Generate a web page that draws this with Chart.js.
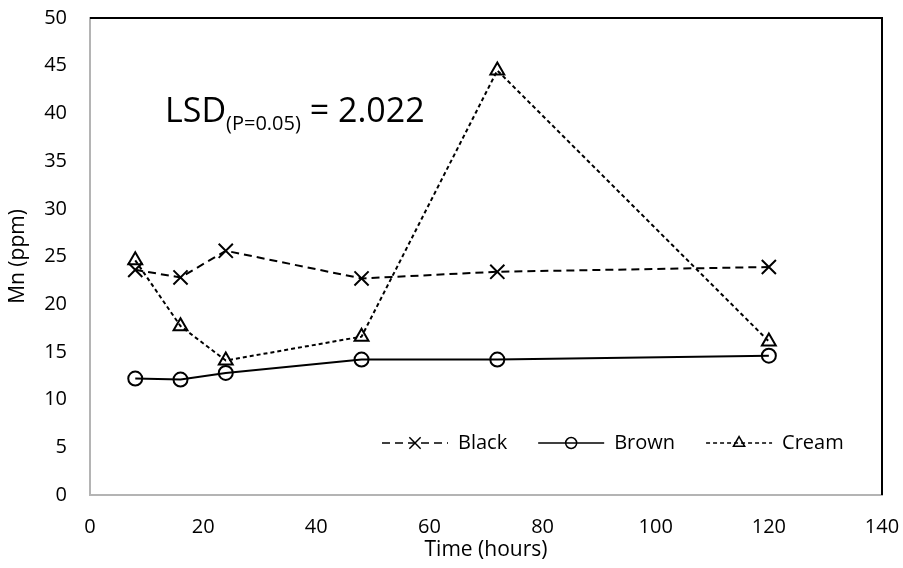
<!DOCTYPE html>
<html>
<head>
<meta charset="utf-8">
<script src="https://cdn.jsdelivr.net/npm/chart.js@4/dist/chart.umd.min.js"></script>
<style>
  html, body { margin: 0; padding: 0; background: #fff; }
  #wrap { width: 903px; height: 568px; position: relative; }
</style>
</head>
<body>
<div id="wrap"><canvas id="chart"></canvas></div>
<script>
// Mn content (ppm) over time for the three seed coat colours
const hours = [8, 16, 24, 48, 72, 120];
const black = [23.6, 22.8, 25.6, 22.7, 23.4, 23.9];
const brown = [12.2, 12.1, 12.8, 14.2, 14.2, 14.6];
const cream = [24.6, 17.7, 14.1, 16.6, 44.5, 16.1];

const xTitle = "Time (hours)";
const yTitle = "Mn (ppm)";
const lsdText = { main: "LSD", sub: "(P=0.05)", rest: " = 2.022" };

const FONT = "'Open Sans', sans-serif";
Chart.defaults.font.family = FONT;
Chart.defaults.color = "#000";

const toPoints = (ys) => hours.map((h, i) => ({ x: h, y: ys[i] }));

const series = (label, ys, dash, style, radius) => ({
  label,
  data: toPoints(ys),
  borderColor: "#000",
  borderWidth: 2,
  borderDash: dash,
  pointStyle: style,
  pointRadius: radius,
  pointBorderWidth: 2,
  pointBorderColor: "#000",
  pointBackgroundColor: "rgba(255,255,255,0)",
  tension: 0,
  fill: false,
});

// plot frame (black top/right) plus the LSD note
const extras = {
  id: "extras",
  afterDraw(chart) {
    const { ctx, chartArea: a } = chart;
    ctx.save();
    ctx.strokeStyle = "#000";
    ctx.lineWidth = 2;
    ctx.beginPath();
    ctx.moveTo(a.left, a.top);
    ctx.lineTo(a.right, a.top);
    ctx.lineTo(a.right, a.bottom);
    ctx.stroke();

    ctx.fillStyle = "#000";
    ctx.textBaseline = "alphabetic";
    let x = 165;
    const base = 122;
    ctx.font = "34px " + FONT;
    ctx.fillText(lsdText.main, x, base);
    x += ctx.measureText(lsdText.main).width;
    ctx.font = "20px " + FONT;
    ctx.fillText(lsdText.sub, x, base + 8);
    x += ctx.measureText(lsdText.sub).width;
    ctx.font = "34px " + FONT;
    ctx.fillText(lsdText.rest, x, base);
    ctx.restore();
  },
};

// legend in the lower right of the plot: line sample with marker, then name
const lineLegend = {
  id: "lineLegend",
  afterDraw(chart) {
    const { ctx } = chart;
    const y = 443;
    let x = 382;
    ctx.save();
    ctx.font = "20px " + FONT;
    ctx.textBaseline = "middle";
    chart.data.datasets.forEach((ds) => {
      const len = 66;
      ctx.strokeStyle = ds.borderColor;
      ctx.lineWidth = 1.5;
      ctx.setLineDash(ds.borderDash);
      ctx.beginPath();
      ctx.moveTo(x, y);
      ctx.lineTo(x + len, y);
      ctx.stroke();
      ctx.setLineDash([]);
      ctx.fillStyle = "rgba(255,255,255,0)";
      Chart.helpers.drawPoint(ctx, {
        pointStyle: ds.pointStyle,
        radius: ds.legendRadius,
        borderWidth: 1.5,
        rotation: 0,
      }, x + len / 2, y);
      ctx.fillStyle = "#000";
      ctx.fillText(ds.label, x + len + 10, y);
      x += len + 10 + ctx.measureText(ds.label).width + 31;
    });
    ctx.restore();
  },
};

const datasets = [
  series("Black", black, [8, 5], "crossRot", 10),
  series("Brown", brown, [], "circle", 7),
  series("Cream", cream, [4, 3], "triangle", 8),
];
datasets[0].legendRadius = 8;
datasets[1].legendRadius = 5.5;
datasets[2].legendRadius = 6.5;

new Chart(document.getElementById("chart"), {
  type: "line",
  data: { datasets },
  options: {
    responsive: true,
    maintainAspectRatio: false,
    animation: false,
    events: [],
    layout: { padding: { top: 18, right: 21, left: 0, bottom: 0 } },
    plugins: {
      legend: { display: false },
      tooltip: { enabled: false },
    },
    scales: {
      x: {
        type: "linear",
        min: 0,
        max: 140,
        ticks: { stepSize: 20, padding: 20, font: { size: 20 }, color: "#000", maxRotation: 0 },
        grid: { display: false, drawTicks: false },
        border: { color: "#b4b4b4", width: 2 },
        title: { display: true, text: xTitle, font: { size: 21 }, color: "#000", padding: { top: 0, bottom: 5 } },
        afterFit(scale) {
          scale.height = 73;
          scale.paddingLeft = 0;
          scale.paddingRight = 0;
        },
      },
      y: {
        min: 0,
        max: 50,
        ticks: { stepSize: 5, padding: 23, font: { size: 20 }, color: "#000" },
        grid: { display: false, drawTicks: false },
        border: { color: "#b4b4b4", width: 2 },
        title: { display: true, text: yTitle, font: { size: 21 }, color: "#000", padding: { top: 5, bottom: 0 } },
        afterFit(scale) {
          scale.width = 90;
          scale.paddingTop = 0;
          scale.paddingBottom = 0;
        },
      },
    },
  },
  plugins: [extras, lineLegend],
});
</script>
</body>
</html>
